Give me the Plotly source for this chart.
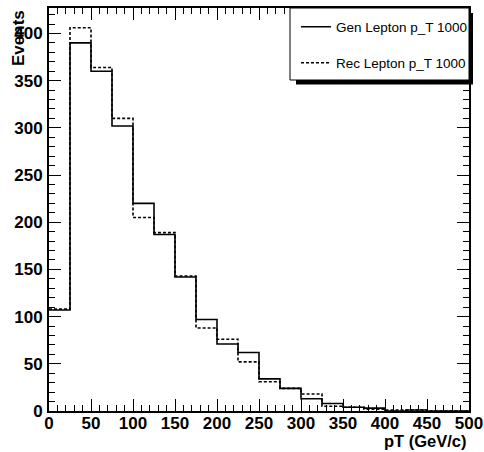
import plotly.graph_objects as go

# ---- data ----
bin_edges = list(range(0, 525, 25))  # 0..500
gen_counts = [107, 390, 360, 302, 220, 187, 142, 97, 71, 62, 34, 24, 13, 8, 4, 3, 0, 1, 0, 0]
rec_counts = [108, 406, 364, 310, 205, 189, 143, 88, 76, 52, 31, 24, 18, 5, 4, 2, 1, 1, 0, 0]
series_names = ["Gen Lepton p_T 1000", "Rec Lepton p_T 1000"]
x_tick_vals = list(range(0, 550, 50))
y_tick_vals = list(range(0, 450, 50))
x_title = "pT (GeV/c)"
y_title = "Events"

W, H = 484, 452
L, R, T, B = 49, 15, 8, 41
pw, ph = W - L - R, H - T - B


def px2x(p):
    return (p - L) / pw


def px2y(p):
    return (H - B - p) / ph


FONT = "Liberation Sans, Arial, sans-serif"

fig = go.Figure()
fig.add_trace(go.Scatter(
    x=bin_edges, y=gen_counts + [gen_counts[-1]], mode="lines",
    line=dict(shape="hv", color="black", width=1.6),
    name=series_names[0], legend="legend"))
fig.add_trace(go.Scatter(
    x=bin_edges, y=rec_counts + [rec_counts[-1]], mode="lines",
    line=dict(shape="hv", color="black", width=1.6, dash="3px,2px"),
    name=series_names[1], legend="legend2"))

axis_common = dict(
    showline=True, linecolor="black", linewidth=2, mirror="allticks",
    ticks="inside", ticklen=12, tickwidth=1, tickcolor="black",
    showgrid=False, zeroline=False, automargin=False,
    tickfont=dict(family=FONT, size=17, color="black"),
)

fig.update_xaxes(range=[0, 500], tickmode="array", tickvals=x_tick_vals,
                 ticktext=[f"<b>{v}</b>" for v in x_tick_vals],
                 minor=dict(dtick=10, tick0=0, ticks="inside", ticklen=6, tickwidth=1, tickcolor="black"),
                 ticklabelstandoff=-4,
                 **axis_common)
fig.update_yaxes(range=[0, 427], tickmode="array", tickvals=y_tick_vals,
                 ticktext=[f"<b>{v}</b>" for v in y_tick_vals],
                 minor=dict(dtick=10, tick0=0, ticks="inside", ticklen=6, tickwidth=1, tickcolor="black"),
                 ticklabelstandoff=1,
                 **axis_common)

leg_font = dict(family=FONT, size=13.5, color="black")
fig.update_layout(
    width=W, height=H,
    margin=dict(l=L, r=R, t=T, b=B, pad=0, autoexpand=False),
    paper_bgcolor="white", plot_bgcolor="white",
    showlegend=True,
    legend=dict(x=px2x(296), y=px2y(27), xanchor="left", yanchor="middle",
                bgcolor="rgba(0,0,0,0)", borderwidth=0, font=leg_font),
    legend2=dict(x=px2x(296), y=px2y(63), xanchor="left", yanchor="middle",
                 bgcolor="rgba(0,0,0,0)", borderwidth=0, font=leg_font),
    shapes=[
        dict(type="rect", xref="paper", yref="paper",
             x0=px2x(296), x1=px2x(473), y0=px2y(84.5), y1=px2y(13),
             fillcolor="black", line=dict(width=0), layer="above"),
        dict(type="rect", xref="paper", yref="paper",
             x0=px2x(290), x1=px2x(469), y0=px2y(80), y1=px2y(8),
             fillcolor="white", line=dict(color="black", width=1), layer="above"),
    ],
    annotations=[
        dict(text=y_title, xref="paper", yref="paper", x=px2x(18), y=1,
             xanchor="center", yanchor="top", textangle=-90, showarrow=False,
             font=dict(family=FONT, size=17, color="black", weight="bold")),
        dict(text=x_title, xref="paper", yref="paper", x=1, y=px2y(452),
             xanchor="right", yanchor="bottom", showarrow=False,
             font=dict(family=FONT, size=16.5, color="black", weight="bold")),
    ],
)

fig.write_html("out.html")
